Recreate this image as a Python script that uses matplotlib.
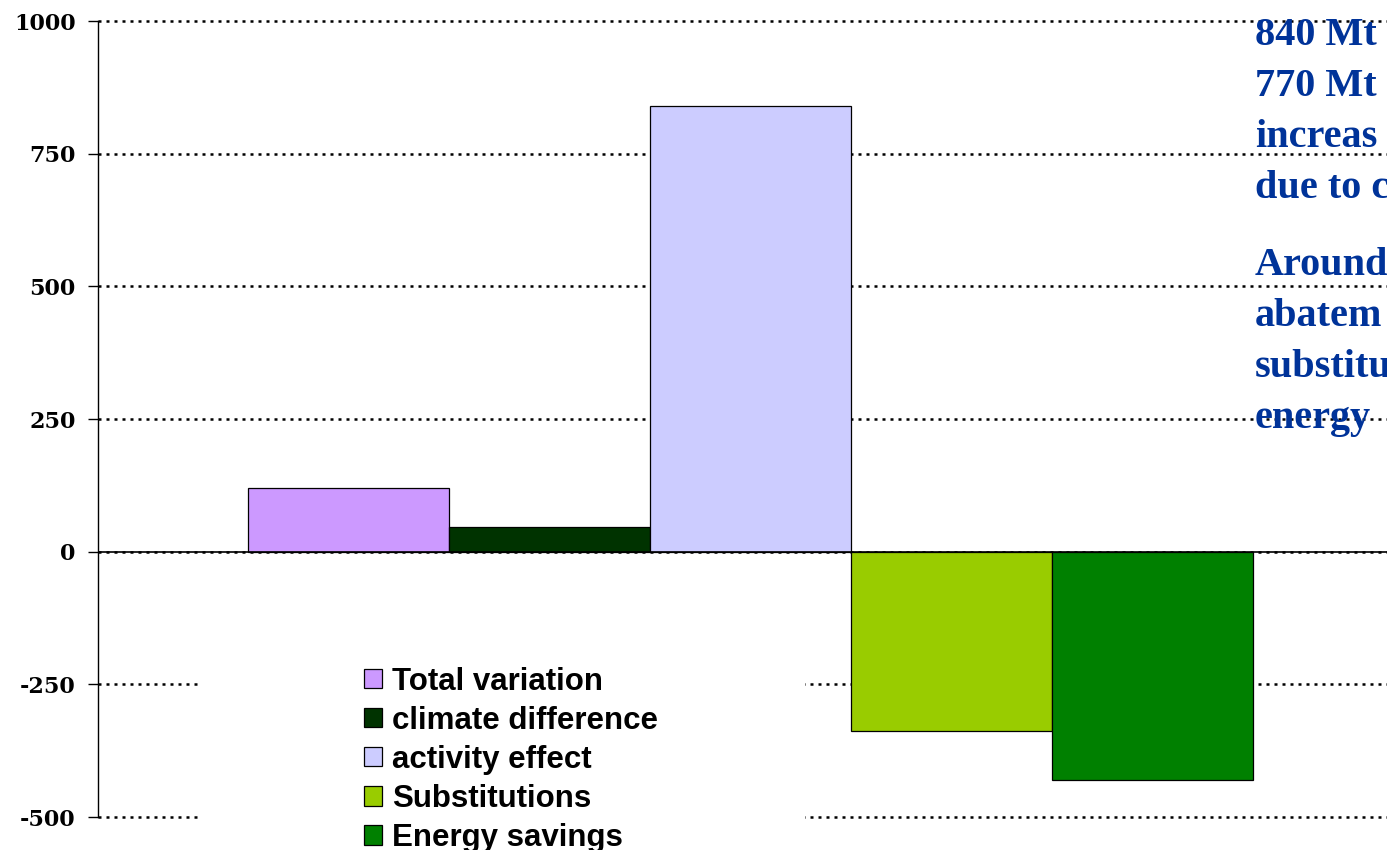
import matplotlib.pyplot as plt
from matplotlib.patches import Rectangle, Patch

# data
categories = ['Total variation', 'climate difference', 'activity effect',
              'Substitutions', 'Energy savings']
values = [120, 46, 840, -337, -430]
colors = ['#CC99FF', '#003300', '#CCCCFF', '#99CC00', '#008000']
yticks = [-500, -250, 0, 250, 500, 750, 1000]
# the note on the right is cut by the edge of the slide
note_lines = ['840 Mt', '770 Mt', 'increas', 'due to c',
              'Around', 'abatem', 'substitu', 'energy']

W, H = 1387, 850
fig = plt.figure(figsize=(W / 100, H / 100), dpi=100)
ax = fig.add_axes([98 / W, 33 / H, 1305 / W, 796 / H])

x = list(range(len(values)))
bars = ax.bar(x, values, width=1.0, color=colors, edgecolor='black',
              linewidth=0.9, zorder=3)
ax.set_xlim(-1.246, 5.246)
ax.set_ylim(-500, 1000)
ax.set_yticks(yticks)
ax.set_yticklabels([str(t) for t in yticks], fontfamily='DejaVu Serif',
                   fontweight='bold', fontsize=16)
ax.set_xticks([])
ax.tick_params(axis='y', length=7, width=1, pad=9)

for s in ['top', 'right', 'bottom']:
    ax.spines[s].set_visible(False)
ax.spines['left'].set_linewidth(1)

ax.yaxis.grid(True, color='black', linestyle=(0, (1.2, 2)), linewidth=1.8)
for gl in ax.get_ygridlines():
    gl.set_clip_on(False)
ax.axhline(0, color='black', linewidth=1.2, zorder=4)

# white box behind the legend hides the lower gridlines
ax.add_patch(Rectangle((202 / W, 0), (805 - 202) / W, 200 / H,
                       transform=fig.transFigure, facecolor='white',
                       edgecolor='none', zorder=2, clip_on=False))

handles = [Patch(facecolor=c, edgecolor='black', linewidth=0.9) for c in colors]
leg = fig.legend(handles, categories, loc='upper left',
                 bbox_to_anchor=(348 / W, 1 - 651 / H), frameon=False,
                 prop={'family': 'Liberation Sans', 'weight': 'bold', 'size': 22.5},
                 handlelength=0.58, handleheight=0.58, handletextpad=0.33,
                 labelspacing=0.29, borderpad=0)

# text on the right
baselines = [45, 96, 147, 198, 275, 326, 377, 428]
for line, b in zip(note_lines, baselines):
    fig.text(1255 / W, 1 - b / H, line, color='#003399', fontsize=29,
             fontfamily='Liberation Serif', fontweight='bold', va='baseline',
             ha='left')

fig.savefig('out.png', dpi=100)
